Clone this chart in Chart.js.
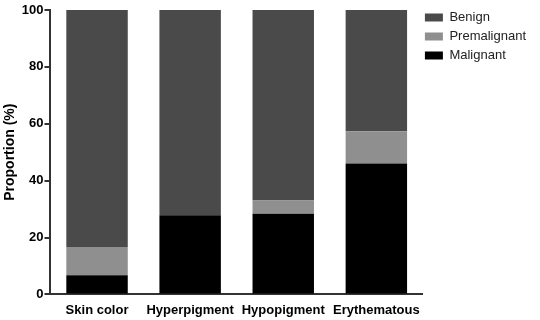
<!DOCTYPE html>
<html>
<head>
<meta charset="utf-8">
<script src="https://cdn.jsdelivr.net/npm/chart.js@4"></script>
<style>
html,body{margin:0;padding:0;background:#fff;}
#wrap{width:540px;height:320px;}
</style>
</head>
<body>
<div id="wrap"><canvas id="c" width="540" height="320"></canvas></div>
<script>
const categories = ["Skin color", "Hyperpigment", "Hypopigment", "Erythematous"];
const malignant = [6.7, 27.8, 28.4, 46.0];
const premalignant = [10.0, 0, 4.6, 11.4];
const benign = [83.3, 72.2, 67.0, 42.6];
const yTicks = [0, 20, 40, 60, 80, 100];

Chart.defaults.font.family = "'Liberation Sans', Arial, sans-serif";
Chart.defaults.color = "#000";

const legendShift = {
  id: 'legendShift',
  afterLayout(chart) {
    if (chart.legend) { chart.legend.top -= 5; chart.legend.left -= 4; chart.legend.right -= 4; }
  }
};

new Chart(document.getElementById('c'), {
  type: 'bar',
  data: {
    labels: categories,
    datasets: [
      {label: 'Malignant', data: malignant, backgroundColor: '#000000'},
      {label: 'Premalignant', data: premalignant, backgroundColor: '#8f8f8f'},
      {label: 'Benign', data: benign, backgroundColor: '#4a4a4a'}
    ]
  },
  plugins: [legendShift],
  options: {
    responsive: false,
    animation: false,
    layout: {padding: {top: 10, right: 0, left: 0, bottom: -6}},
    datasets: {bar: {barPercentage: 0.66, categoryPercentage: 1.0, borderWidth: 0}},
    plugins: {
      legend: {
        position: 'right',
        align: 'start',
        reverse: true,
        labels: {
          boxWidth: 18, boxHeight: 8, padding: 6,
          font: {size: 13}, color: '#222'
        }
      },
      tooltip: {enabled: false}
    },
    scales: {
      x: {
        stacked: true,
        grid: {drawOnChartArea: false, drawTicks: false},
        border: {display: true, color: '#333', width: 2},
        ticks: {font: {size: 13, weight: 'bold'}, padding: 8, color: '#000', maxRotation: 0, minRotation: 0, autoSkip: false}
      },
      y: {
        stacked: true,
        min: 0, max: 100,
        afterBuildTicks: (s) => { s.ticks = yTicks.map(v => ({value: v})); },
        grid: {drawOnChartArea: false, tickLength: 6, color: '#333', lineWidth: 2},
        border: {display: true, color: '#333', width: 2},
        ticks: {font: {size: 13, weight: 'bold'}, padding: 1, color: '#000'},
        title: {display: true, text: 'Proportion (%)', font: {size: 14, weight: 'bold'}, padding: {top: 2, bottom: 2}, color: '#000'}
      }
    }
  }
});
</script>
</body>
</html>
